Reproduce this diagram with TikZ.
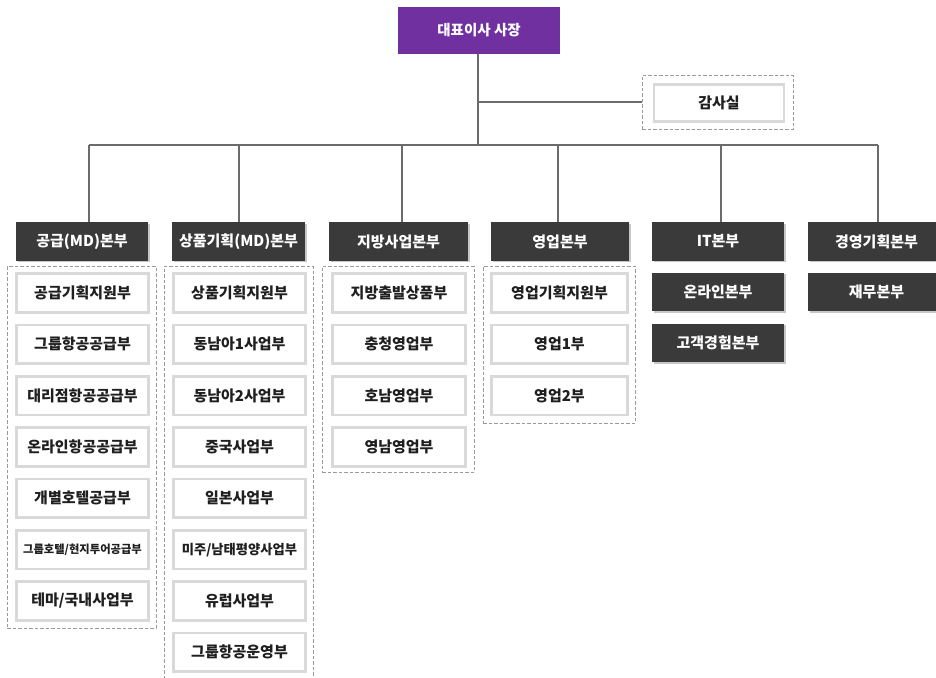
\documentclass[tikz,border=0pt]{standalone}
\usepackage{fontspec}
\setmainfont{Noto Sans CJK KR}
\usetikzlibrary{shadows}
\definecolor{purp}{HTML}{7030A0}
\definecolor{dk}{HTML}{3A3A3A}
\definecolor{ln}{HTML}{6B6B6B}
\definecolor{lb}{HTML}{D9D9D9}
\definecolor{dsh}{HTML}{9A9A9A}
\tikzset{
 ceobox/.style={fill=purp, text=white, font=\bfseries\fontsize{14.5}{16}\selectfont, inner sep=0, minimum width=162pt, minimum height=47pt},
 dkbox/.style={fill=dk, text=white, font=\bfseries\fontsize{15}{17}\selectfont, inner sep=0, minimum height=38.5pt,
   drop shadow={shadow xshift=1.6pt, shadow yshift=-1.6pt, fill=black!22, opacity=1}},
 wbox/.style={fill=white, draw=lb, line width=2.6pt, text=black!88, font=\bfseries\fontsize{15}{17}\selectfont, inner sep=0, minimum height=38.5pt},
 grp/.style={draw=dsh, dash pattern=on 3.5pt off 2pt, line width=0.8pt, inner sep=0},
 conn/.style={draw=ln, line width=1.5pt},
}
\begin{document}
\begin{tikzpicture}[x=1pt,y=-1pt]
\useasboundingbox (0,0) rectangle (936,677);
% containers
\node[grp, minimum width=149pt, minimum height=362pt] (g1) at (81.5,447) {};
\node[grp, minimum width=149pt, minimum height=420pt] (g2) at (238.5,476) {};
\node[grp, minimum width=152pt, minimum height=206pt] (g3) at (398,369) {};
\node[grp, minimum width=152pt, minimum height=157pt] (g4) at (559,344.5) {};
\node[grp, minimum width=151pt, minimum height=54pt] (ga) at (717.5,102) {};
% top
\node[ceobox] (ceo) at (479,30.5) {대표이사 사장};
\node[wbox, minimum width=130pt, minimum height=37pt] (audit) at (719,103) {감사실};
% division heads
\node[dkbox, minimum width=132pt] (d1) at (82,241.5) {공급(MD)본부};
\node[dkbox, minimum width=133pt] (d2) at (238.5,241.5) {상품기획(MD)본부};
\node[dkbox, minimum width=139pt] (d3) at (398.5,241.5) {지방사업본부};
\node[dkbox, minimum width=138pt] (d4) at (560,241.5) {영업본부};
\node[dkbox, minimum width=132pt] (d5) at (718,241.5) {IT본부};
\node[dkbox, minimum width=137pt] (d6) at (876.5,241.5) {경영기획본부};
\node[dkbox, minimum width=132pt] (d5a) at (718,292) {온라인본부};
\node[dkbox, minimum width=132pt] (d5b) at (718,343) {고객경험본부};
\node[dkbox, minimum width=137pt] (d6a) at (876.5,292) {재무본부};
% column 1
\node[wbox, minimum width=132pt] (c1a) at (82.5,293) {공급기획지원부};
\node[wbox, minimum width=132pt] (c1b) at (82.5,344.3) {그룹항공공급부};
\node[wbox, minimum width=132pt] (c1c) at (82.5,395.7) {대리점항공공급부};
\node[wbox, minimum width=132pt] (c1d) at (82.5,447) {온라인항공공급부};
\node[wbox, minimum width=132pt] (c1e) at (82.5,498.3) {개별호텔공급부};
\node[wbox, minimum width=132pt, font=\bfseries\fontsize{11.3}{13}\selectfont] (c1f) at (82.5,549.7) {그룹호텔/현지투어공급부};
\node[wbox, minimum width=132pt] (c1g) at (82.5,601) {테마/국내사업부};
% column 2
\node[wbox, minimum width=132pt] (c2a) at (239.5,293) {상품기획지원부};
\node[wbox, minimum width=132pt] (c2b) at (239.5,344.3) {동남아1사업부};
\node[wbox, minimum width=132pt] (c2c) at (239.5,395.7) {동남아2사업부};
\node[wbox, minimum width=132pt] (c2d) at (239.5,447) {중국사업부};
\node[wbox, minimum width=132pt] (c2e) at (239.5,498.3) {일본사업부};
\node[wbox, minimum width=132pt, font=\bfseries\fontsize{13.3}{15}\selectfont] (c2f) at (239.5,549.7) {미주/남태평양사업부};
\node[wbox, minimum width=132pt] (c2g) at (239.5,601) {유럽사업부};
\node[wbox, minimum width=132pt] (c2h) at (239.5,652.3) {그룹항공운영부};
% column 3
\node[wbox, minimum width=133pt] (c3a) at (399,293) {지방출발상품부};
\node[wbox, minimum width=133pt] (c3b) at (399,344.3) {충청영업부};
\node[wbox, minimum width=133pt] (c3c) at (399,395.7) {호남영업부};
\node[wbox, minimum width=133pt] (c3d) at (399,447) {영남영업부};
% column 4
\node[wbox, minimum width=136pt] (c4a) at (559.5,293) {영업기획지원부};
\node[wbox, minimum width=136pt] (c4b) at (559.5,344.3) {영업1부};
\node[wbox, minimum width=136pt] (c4c) at (559.5,395.7) {영업2부};
% connectors
\coordinate (bus) at (478,145);
\coordinate (b1) at (89,145);
\coordinate (b2) at (239,145);
\coordinate (b3) at (402,145);
\coordinate (b4) at (558,145);
\coordinate (b5) at (721,145);
\coordinate (b6) at (878,145);
\coordinate (ja) at (478,102);
\draw[conn] (ceo.south -| bus) -- (bus);
\draw[conn] (ja) -- (ga.west);
\draw[conn] (b1) -- (b6);
\draw[conn] (b1) -- (b1 |- d1.north);
\draw[conn] (b2) -- (b2 |- d2.north);
\draw[conn] (b3) -- (b3 |- d3.north);
\draw[conn] (b4) -- (b4 |- d4.north);
\draw[conn] (b5) -- (b5 |- d5.north);
\draw[conn] (b6) -- (b6 |- d6.north);
\end{tikzpicture}
\end{document}
